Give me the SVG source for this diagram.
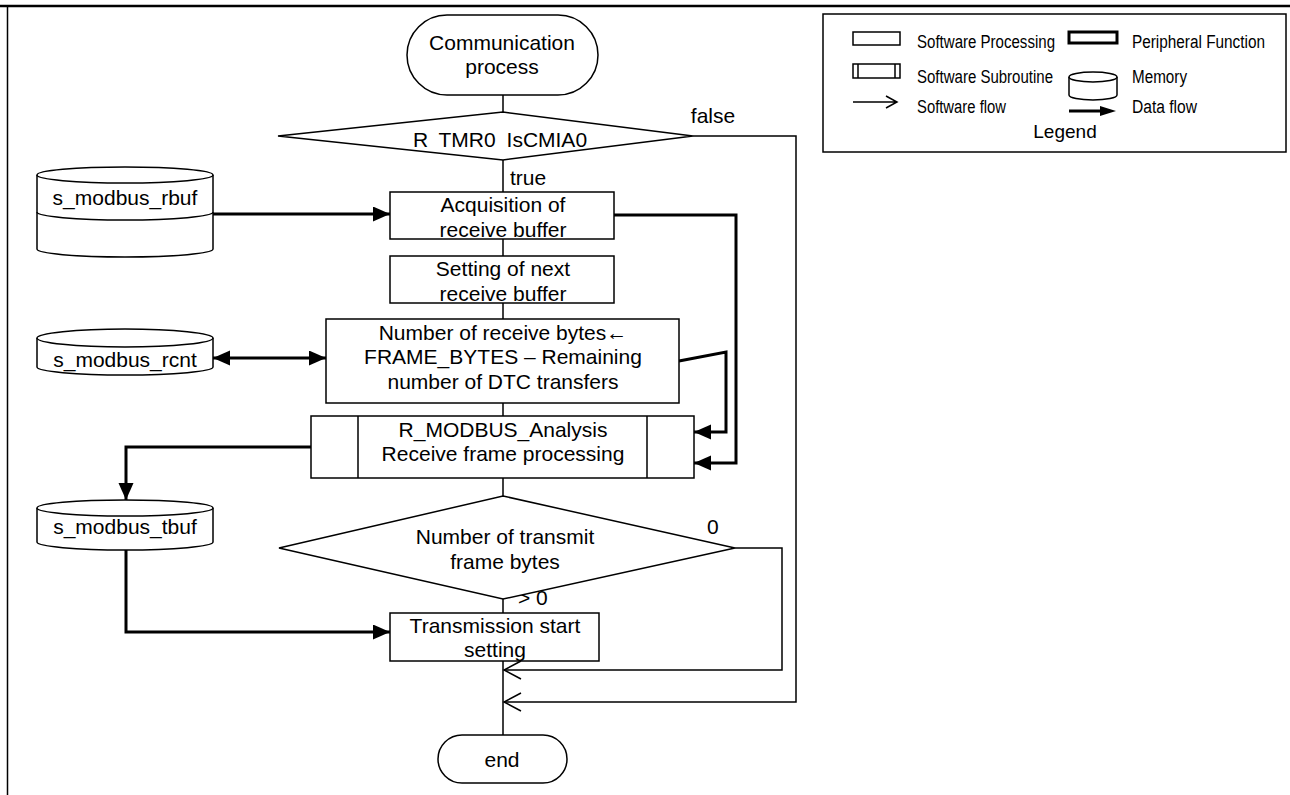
<svg xmlns="http://www.w3.org/2000/svg" width="1290" height="795" viewBox="0 0 1290 795">
<style>
.t{font-family:"Liberation Sans",Arial,sans-serif;font-size:21px;fill:#000;text-anchor:middle}
.lt{font-family:"Liberation Sans",Arial,sans-serif;font-size:18px;fill:#000;text-anchor:start}
.s{fill:#fff;stroke:#000;stroke-width:1.5}
.f{fill:none;stroke:#000;stroke-width:1.5}
.d{fill:none;stroke:#000;stroke-width:3}
</style>
<defs>
<marker id="ah" markerUnits="userSpaceOnUse" markerWidth="18" markerHeight="16" refX="17" refY="7.5" orient="auto-start-reverse" viewBox="0 0 18 16">
<path d="M0,0 L17,7.5 L0,15 z" fill="#000"/>
</marker>
</defs>
<rect width="1290" height="795" fill="#fff"/>
<line x1="0" y1="6" x2="1290" y2="6" stroke="#000" stroke-width="2.5"/>
<line x1="7.5" y1="6" x2="7.5" y2="795" stroke="#000" stroke-width="1.5"/>

<g id="connectors">
<path class="f" d="M503,95 V112 M503,160 V192 M503,239 V256 M503,303 V319 M503,403 V416 M503,478 V496 M503,599 V613 M503,661 V735"/>
<path class="f" d="M693,136 H796 V702 H504"/>
<path class="f" d="M521,693 L504,702 L521,711"/>
<path class="f" d="M735,548 H782 V670 H504"/>
<path class="f" d="M521,661 L504,670 L521,679"/>
<path class="d" d="M213,214 H390" marker-end="url(#ah)"/>
<path class="d" d="M213,358 H326" marker-start="url(#ah)" marker-end="url(#ah)"/>
<path class="d" d="M614,215 H736 V463 H694" marker-end="url(#ah)"/>
<path class="d" d="M679,361 L726,352 V432 H694" marker-end="url(#ah)"/>
<path class="d" d="M311,447 H126 V500" marker-end="url(#ah)"/>
<path class="d" d="M126,550 V632 H390" marker-end="url(#ah)"/>
<text class="t" x="713" y="123">false</text>
<text class="t" x="510" y="185" style="text-anchor:start">true</text>
<text class="t" x="707" y="534" style="text-anchor:start">0</text>
<text class="t" x="518" y="605" style="text-anchor:start">&gt; 0</text>
</g>

<g id="start">
<rect class="s" x="407" y="15" width="191" height="80" rx="40"/>
<text class="t" x="502" y="50">Communication</text>
<text class="t" x="502" y="74">process</text>
</g>

<g id="dec1">
<polygon class="s" points="503,112 693,136 503,160 278,136"/>
<text class="t" x="500" y="147" style="word-spacing:5px">R TMR0 IsCMIA0</text>
</g>

<g id="acq">
<rect class="s" x="390" y="192" width="224" height="47"/>
<text class="t" x="503" y="212">Acquisition of</text>
<text class="t" x="503" y="237">receive buffer</text>
</g>

<g id="setnext">
<rect class="s" x="390" y="256" width="224" height="47"/>
<text class="t" x="503" y="276">Setting of next</text>
<text class="t" x="503" y="301">receive buffer</text>
</g>

<g id="numrecv">
<rect class="s" x="326" y="319" width="353" height="84"/>
<text class="t" x="503" y="340">Number of receive bytes←</text>
<text class="t" x="503" y="364">FRAME_BYTES – Remaining</text>
<text class="t" x="503" y="389">number of DTC transfers</text>
</g>

<g id="analysis">
<rect class="s" x="311" y="416" width="383" height="62"/>
<path class="f" d="M358,416 V478 M647,416 V478"/>
<text class="t" x="503" y="437">R_MODBUS_Analysis</text>
<text class="t" x="503" y="461">Receive frame processing</text>
</g>

<g id="dec2">
<polygon class="s" points="503,496 735,548 503,599 279,548"/>
<text class="t" x="505" y="544">Number of transmit</text>
<text class="t" x="505" y="569">frame bytes</text>
</g>

<g id="txstart">
<rect class="s" x="390" y="613" width="209" height="48"/>
<text class="t" x="495" y="633">Transmission start</text>
<text class="t" x="495" y="657">setting</text>
</g>

<g id="end">
<rect class="s" x="438" y="735" width="129" height="48" rx="24"/>
<text class="t" x="502" y="767">end</text>
</g>

<g id="rbuf">
<path class="s" d="M37,175 V249 A88,8 0 0 0 213,249 V175"/>
<ellipse class="s" cx="125" cy="175" rx="88" ry="8"/>
<path class="f" d="M37,212 A88,8 0 0 0 213,212"/>
<text class="t" x="125" y="205">s_modbus_rbuf</text>
</g>

<g id="rcnt">
<path class="s" d="M37,338 V367 A88,8 0 0 0 213,367 V338"/>
<ellipse class="s" cx="125" cy="338" rx="88" ry="9"/>
<text class="t" x="125" y="367">s_modbus_rcnt</text>
</g>

<g id="tbuf">
<path class="s" d="M37,508 V542 A88,8 0 0 0 213,542 V508"/>
<ellipse class="s" cx="125" cy="508" rx="88" ry="8"/>
<text class="t" x="125" y="534">s_modbus_tbuf</text>
</g>

<g id="legend">
<rect class="s" x="823" y="14" width="463" height="138"/>
<rect class="s" x="853" y="32" width="47" height="13"/>
<text class="lt" x="917" y="48" textLength="138" lengthAdjust="spacingAndGlyphs">Software Processing</text>
<rect x="1069" y="32" width="48" height="11" fill="#fff" stroke="#000" stroke-width="3"/>
<text class="lt" x="1132" y="48" textLength="133" lengthAdjust="spacingAndGlyphs">Peripheral Function</text>
<rect class="s" x="853" y="64" width="47" height="14"/>
<path class="f" d="M858,64 V78 M895,64 V78"/>
<text class="lt" x="917" y="83" textLength="136" lengthAdjust="spacingAndGlyphs">Software Subroutine</text>
<path class="s" d="M1069,77 V95 A24,5 0 0 0 1117,95 V77"/>
<ellipse class="s" cx="1093" cy="77" rx="24" ry="5"/>
<text class="lt" x="1132" y="83" textLength="55" lengthAdjust="spacingAndGlyphs">Memory</text>
<path class="f" d="M853,102 H897 M886,96 L897,102 L886,108"/>
<text class="lt" x="917" y="113" textLength="89" lengthAdjust="spacingAndGlyphs">Software flow</text>
<path d="M1069,111 H1102" stroke="#000" stroke-width="3"/>
<path d="M1100,106 L1116,111 L1100,116 z" fill="#000"/>
<text class="lt" x="1132" y="113" textLength="65" lengthAdjust="spacingAndGlyphs">Data flow</text>
<text class="t" x="1065" y="138" style="font-size:19px">Legend</text>
</g>
</svg>
